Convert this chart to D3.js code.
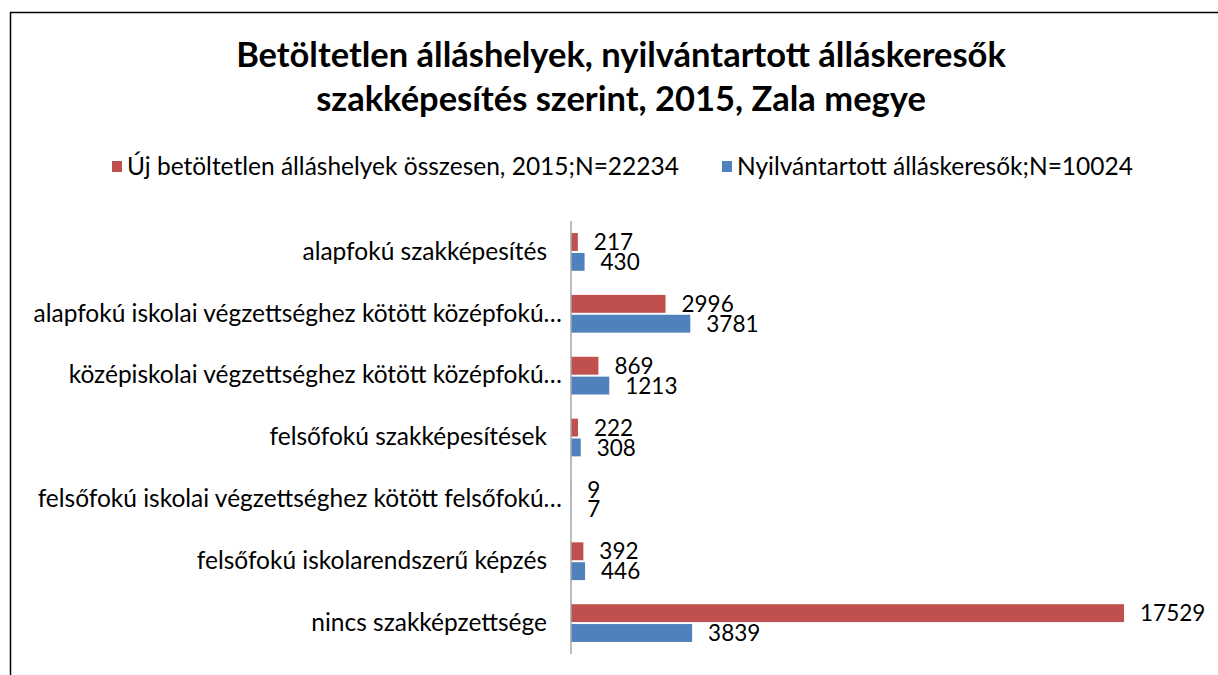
<!DOCTYPE html>
<html>
<head>
<meta charset="utf-8">
<script src="https://cdn.jsdelivr.net/npm/d3@7"></script>
<style>
  body { margin: 0; background: #fff; }
  svg { display: block; font-family: Lato, "Open Sans", sans-serif; }
</style>
</head>
<body>
<svg id="chart" width="1218" height="675"></svg>
<script>
const categories = [
  "alapfokú szakképesítés",
  "alapfokú iskolai végzettséghez kötött középfokú…",
  "középiskolai végzettséghez kötött középfokú…",
  "felsőfokú szakképesítések",
  "felsőfokú iskolai végzettséghez kötött felsőfokú…",
  "felsőfokú iskolarendszerű képzés",
  "nincs szakképzettsége"
]
const vacancies = [217, 2996, 869, 222, 9, 392, 17529]
const jobseekers = [430, 3781, 1213, 308, 7, 446, 3839]
const seriesNames = [
  "Új betöltetlen álláshelyek összesen, 2015;N=22234",
  "Nyilvántartott álláskeresők;N=10024"
]
const titleLines = [
  "Betöltetlen álláshelyek, nyilvántartott álláskeresők",
  "szakképesítés szerint, 2015, Zala megye"
]
const colors = ["#C0504D", "#4F81BD"]

const svg = d3.select("#chart")

// chart frame (cut off at right and bottom like the source)
svg.append("path")
  .attr("d", "M10.5,675 V12.5 H1218")
  .attr("fill", "none")
  .attr("stroke", "#000")
  .attr("stroke-width", 1.5)

svg.append("g").selectAll("text")
  .data(titleLines)
  .join("text")
    .attr("x", 621)
    .attr("y", (d, i) => 67 + i * 44)
    .attr("text-anchor", "middle")
    .style("font-size", "34.5px")
    .style("font-weight", "bold")
    .text((d) => d)

// legend
const legendX = [112, 722]
const legend = svg.append("g").selectAll("g")
  .data(seriesNames)
  .join("g")
    .attr("transform", (d, i) => `translate(${legendX[i]},161)`)
legend.append("rect")
  .attr("width", 10).attr("height", 11)
  .attr("fill", (d, i) => colors[i])
legend.append("text")
  .attr("x", 15).attr("y", 14)
  .style("font-size", "24.5px")
  .text((d) => d)

const x = d3.scaleLinear().domain([0, 20000]).range([571, 1202])
const y = d3.scaleBand().domain(categories).range([221, 654])
  .paddingInner(0.39).paddingOuter(0.195)
const sub = d3.scaleBand().domain([0, 1]).range([0, y.bandwidth()]).paddingInner(0.1)

const rows = categories.map((c, i) => ({cat: c, values: [vacancies[i], jobseekers[i]]}))

const groups = svg.append("g").selectAll("g")
  .data(rows)
  .join("g")
    .attr("transform", (d) => `translate(0,${y(d.cat)})`)

groups.selectAll("rect")
  .data((d) => d.values)
  .join("rect")
    .attr("x", x(0))
    .attr("y", (d, i) => sub(i))
    .attr("width", (d) => x(d) - x(0))
    .attr("height", sub.bandwidth())
    .attr("fill", (d, i) => colors[i])

groups.selectAll("text.val")
  .data((d) => d.values)
  .join("text")
    .attr("class", "val")
    .attr("x", (d) => x(d) + 16)
    .attr("y", (d, i) => sub(i) + sub.bandwidth() / 2)
    .attr("dy", "0.36em")
    .style("font-size", "22.5px")
    .text((d) => d)

// category axis
const yAxis = svg.append("g")
  .attr("transform", `translate(${x(0)},0)`)
  .call(d3.axisLeft(y).tickSize(0).tickPadding(0))
yAxis.select(".domain").attr("stroke", "#A6A6A6").attr("stroke-width", 1.5)
  .attr("d", "M0,221V654")
yAxis.selectAll(".tick text")
  .attr("x", (d) => d.endsWith("…") ? -9 : -24)
  .style("font-size", "24.5px")
  .style("font-family", "Lato, sans-serif")
  .attr("fill", "#000")
</script>
</body>
</html>
